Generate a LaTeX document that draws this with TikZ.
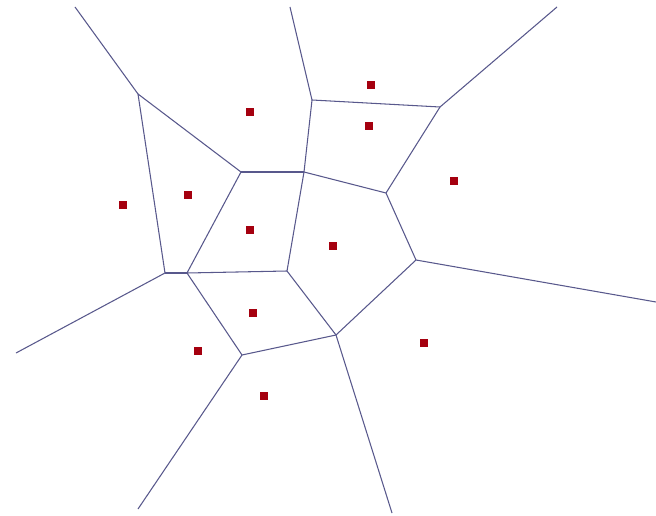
\documentclass[tikz,border=0pt]{standalone}
\usepackage{xcolor}
\usepackage{tikz}
\definecolor{edgeblue}{RGB}{88,88,140}
\definecolor{sitered}{RGB}{165,0,15}

\begin{document}
\begin{tikzpicture}[
x=0.03cm,y=-0.03cm,
site/.style={fill=sitered,inner sep=0pt,minimum size=6pt},
ridge/.style={edgeblue,line width=0.9pt}
]
\useasboundingbox[fill=white] (0,0) rectangle (656,516);
% vertices
\coordinate (a) at (138,94);
\coordinate (b) at (241,172);
\coordinate (c) at (304,172);
\coordinate (d) at (312,100);
\coordinate (e) at (165,273);
\coordinate (f) at (386,193);
\coordinate (g) at (440,107);
\coordinate (h) at (416,260);
\coordinate (i) at (287,271);
\coordinate (j) at (187,273);
\coordinate (k) at (242,355);
\coordinate (l) at (336,335);
% open ends
\coordinate (topl) at (75,7);
\coordinate (topm) at (290,7);
\coordinate (topr) at (557,7);
\coordinate (left) at (16,353);
\coordinate (right) at (656,302);
\coordinate (botl) at (138,509);
\coordinate (botr) at (392,513);
% sites
\node[site] (s1) at (371,85) {};
\node[site] (s2) at (369,126) {};
\node[site] (s3) at (454,181) {};
\node[site] (s4) at (333,246) {};
\node[site] (s5) at (250,112) {};
\node[site] (s6) at (188,195) {};
\node[site] (s7) at (123,205) {};
\node[site] (s8) at (250,230) {};
\node[site] (s9) at (253,313) {};
\node[site] (s10) at (198,351) {};
\node[site] (s11) at (264,396) {};
\node[site] (s12) at (424,343) {};
% cell borders
\draw[ridge] (topl)--(a);
\draw[ridge] (a)--(b);
\draw[ridge] (a)--(e);
\draw[ridge] (b)--(c);
\draw[ridge] (b)--(j);
\draw[ridge] (c)--(d);
\draw[ridge] (c)--(f);
\draw[ridge] (c)--(i);
\draw[ridge] (d)--(topm);
\draw[ridge] (d)--(g);
\draw[ridge] (g)--(topr);
\draw[ridge] (g)--(f);
\draw[ridge] (f)--(h);
\draw[ridge] (h)--(right);
\draw[ridge] (h)--(l);
\draw[ridge] (l)--(botr);
\draw[ridge] (i)--(l);
\draw[ridge] (k)--(l);
\draw[ridge] (k)--(j);
\draw[ridge] (k)--(botl);
\draw[ridge] (e)--(j);
\draw[ridge] (j)--(i);
\draw[ridge] (e)--(left);
\end{tikzpicture}
\end{document}
